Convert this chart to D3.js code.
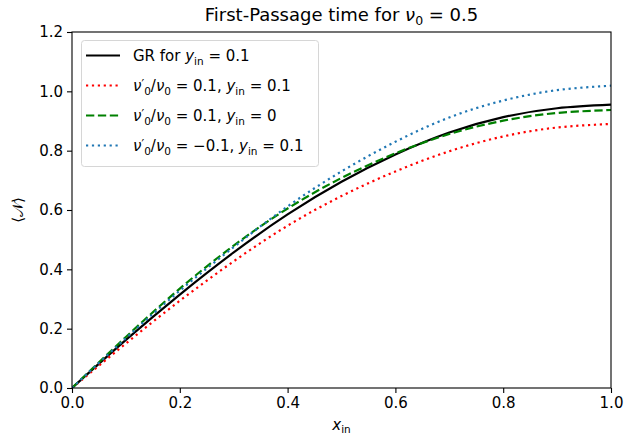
<!DOCTYPE html>
<html><head><meta charset="utf-8">
<script src="https://cdn.jsdelivr.net/npm/d3@7"></script>
<style>body{margin:0;background:#fff}svg{font-family:"DejaVu Sans",sans-serif}</style>
</head><body>
<svg id="c" width="624" height="435"></svg>
<script>
const xs = [0,0.1,0.2,0.3,0.4,0.5,0.6,0.7,0.8,0.9,1.0];
const grY   = [0,0.162,0.315,0.457,0.585,0.695,0.787,0.861,0.913,0.943,0.955];
const redY  = [0,0.150,0.294,0.427,0.547,0.647,0.730,0.798,0.848,0.878,0.890];
const greenY= [0,0.172,0.335,0.480,0.605,0.708,0.791,0.856,0.901,0.927,0.937];
const blueY = [0,0.168,0.328,0.475,0.612,0.730,0.830,0.912,0.969,1.004,1.019];
const xTicks = [0,0.2,0.4,0.6,0.8,1.0];
const yTicks = [0,0.2,0.4,0.6,0.8,1.0,1.2];

const svg = d3.select("#c");
const L=72,R=611,T=32,B=388;
const x = d3.scaleLinear().domain([0,1]).range([L,R]);
const y = d3.scaleLinear().domain([0,1.2]).range([B,T]);

const series = [
  {name:"gr", ys:grY, color:"#000000", dash:null},
  {name:"red", ys:redY, color:"#ff0000", dash:"2.2,3.7"},
  {name:"green", ys:greenY, color:"#008000", dash:"8.3,3.6"},
  {name:"blue", ys:blueY, color:"#1f77b4", dash:"2.2,3.7"}
];
const line = d3.line().x(d=>x(d[0])).y(d=>y(d[1])).curve(d3.curveNatural);
svg.append("defs").append("clipPath").attr("id","clip").append("rect")
  .attr("x",L).attr("y",T).attr("width",R-L).attr("height",B-T);
const g = svg.append("g").attr("clip-path","url(#clip)");
series.forEach(s=>{
  g.append("path").datum(xs.map((v,i)=>[v,s.ys[i]]))
   .attr("d",line).attr("fill","none").attr("stroke",s.color)
   .attr("stroke-width",2.2).attr("stroke-dasharray",s.dash);
});

const xAxis = d3.axisBottom(x).tickValues(xTicks).tickFormat(d3.format(".1f")).tickSize(5).tickPadding(4);
const yAxis = d3.axisLeft(y).tickValues(yTicks).tickFormat(d3.format(".1f")).tickSize(5).tickPadding(4);
const gx = svg.append("g").attr("transform",`translate(0,${B})`).call(xAxis);
const gy = svg.append("g").attr("transform",`translate(${L},0)`).call(yAxis);
[gx,gy].forEach(a=>{
  a.select(".domain").remove();
  a.selectAll("text").attr("font-size",15).attr("fill","#000").attr("font-family","DejaVu Sans");
  a.selectAll("line").attr("stroke","#000").attr("stroke-width",1.1);
});
svg.append("rect").attr("x",L).attr("y",T).attr("width",R-L).attr("height",B-T)
  .attr("fill","none").attr("stroke","#000").attr("stroke-width",1.1);

// title
const t = svg.append("text").attr("x",(L+R)/2).attr("y",21).attr("text-anchor","middle").attr("font-size",18);
t.append("tspan").text("First-Passage time for ");
t.append("tspan").attr("font-style","italic").text("ν");
t.append("tspan").attr("font-size",12.5).attr("dy",4).text("0");
t.append("tspan").attr("dy",-4).text(" = 0.5");

// x label
const xl = svg.append("text").attr("x",(L+R)/2).attr("y",430).attr("text-anchor","middle").attr("font-size",15);
xl.append("tspan").attr("font-style","italic").text("x");
xl.append("tspan").attr("font-size",10.5).attr("dy",3).text("in");

// y label
const yl = svg.append("text").attr("transform","translate(23,210) rotate(-90)").attr("text-anchor","middle").attr("font-size",15);
yl.text("⟨𝒩⟩");

// legend
const lg = svg.append("g");
lg.append("rect").attr("x",81.5).attr("y",40.5).attr("width",237).attr("height",126).attr("rx",3)
  .attr("fill","#fff").attr("fill-opacity",0.8).attr("stroke","#d6d6d6");
const rows = [55.5,85.5,115.5,145.5];
// k: i = italic, s = subscript, p = prime superscript, "" = normal
const labels = [
  [["GR for ",""],["y","i"],["in","s"],[" = 0.1",""]],
  [["ν","i"],["′","p"],["0","s"],["/",""],["ν","i"],["0","s"],[" = 0.1, ",""],["y","i"],["in","s"],[" = 0.1",""]],
  [["ν","i"],["′","p"],["0","s"],["/",""],["ν","i"],["0","s"],[" = 0.1, ",""],["y","i"],["in","s"],[" = 0",""]],
  [["ν","i"],["′","p"],["0","s"],["/",""],["ν","i"],["0","s"],[" = −0.1, ",""],["y","i"],["in","s"],[" = 0.1",""]]
];
series.forEach((s,i)=>{
  lg.append("line").attr("x1",86).attr("x2",120).attr("y1",rows[i]).attr("y2",rows[i])
    .attr("stroke",s.color).attr("stroke-width",2.2).attr("stroke-dasharray",s.dash);
  const tx = lg.append("text").attr("x",133).attr("y",rows[i]+5.5).attr("font-size",15);
  let cur=0;
  labels[i].forEach(([txt,k])=>{
    const sp = tx.append("tspan").text(txt);
    if(k==="i"){ sp.attr("font-style","italic"); if(cur!==0){sp.attr("dy",-cur);cur=0;} }
    else if(k==="s"){ sp.attr("font-size",10.5).attr("dy",3.5-cur); cur=3.5; }
    else if(k==="p"){ sp.attr("font-size",12).attr("dy",-3-cur); cur=-3; }
    else { if(cur!==0){sp.attr("dy",-cur);cur=0;} }
  });
});
</script>
</body></html>
